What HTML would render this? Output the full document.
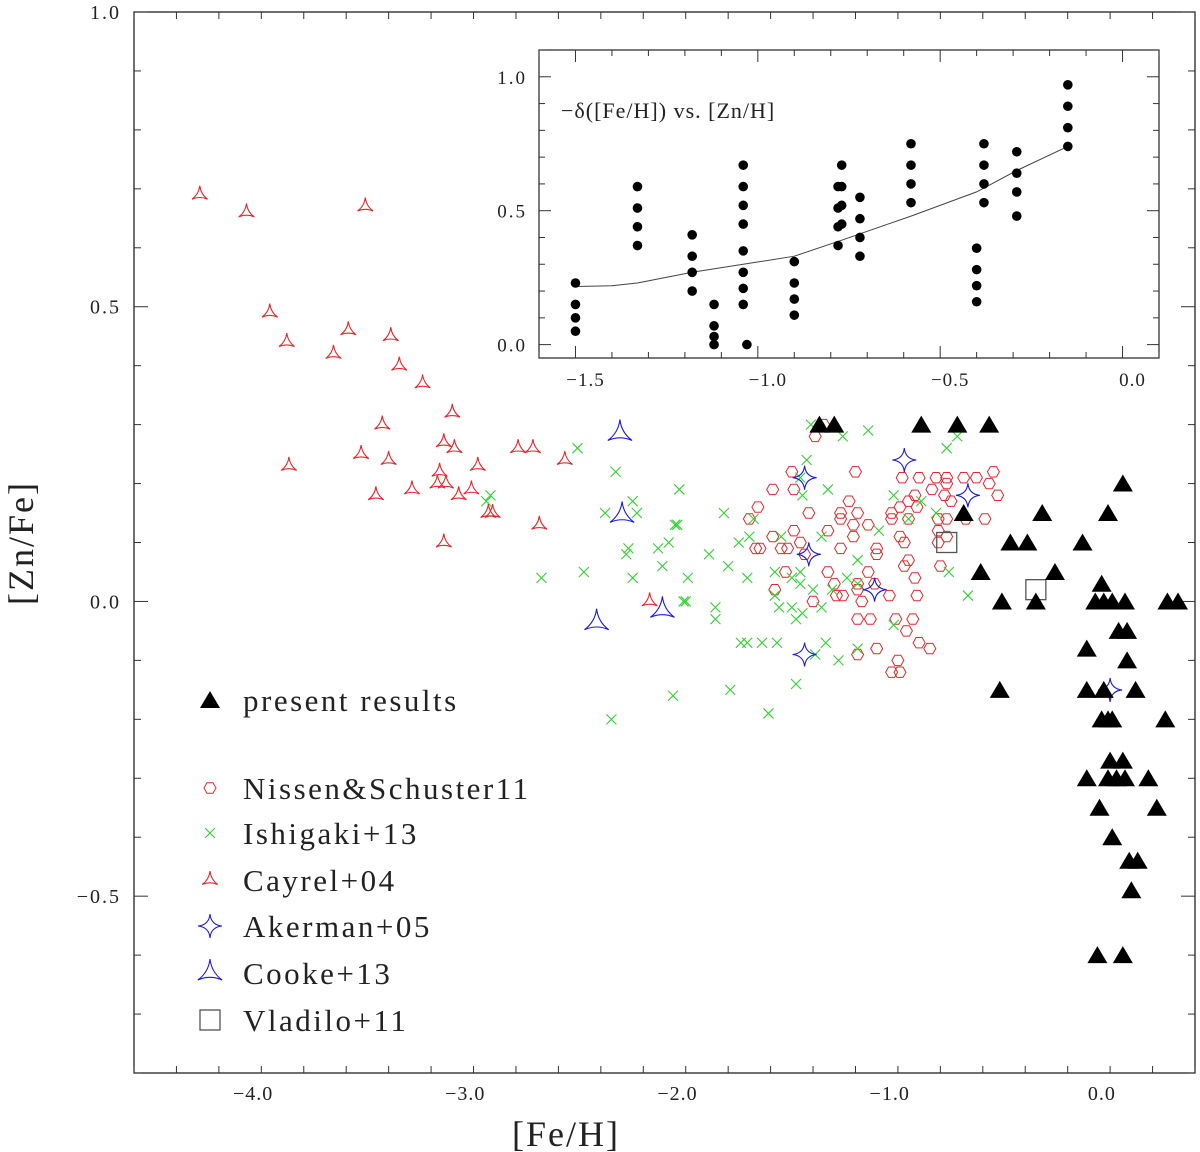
<!DOCTYPE html>
<html><head><meta charset="utf-8">
<style>
html,body{margin:0;padding:0;background:#fff;}
svg{display:block;}
text{font-family:"Liberation Serif","DejaVu Serif",serif;fill:#222;}
</style></head>
<body>
<svg id="chart" width="1200" height="1152" viewBox="0 0 1200 1152" xmlns="http://www.w3.org/2000/svg">
<rect x="0" y="0" width="1200" height="1152" fill="#fff"/>
<g id="axes"></g>
<g id="marks"></g>
<g id="inset"></g>
<g id="legend"></g>
</svg>
<script>
// ---- Main plot data ([Fe/H], [Zn/Fe]) ----
const presentX = [-1.27,-1.20,-0.79,-0.62,-0.47,0.16,-0.22,0.09,-0.59,-0.37,-0.29,-0.03,-0.51,-0.16,0.06,-0.41,-0.25,0.03,0.07,0.11,0.17,0.37,0.42,0.14,0.18,-0.01,0.18,-0.42,-0.01,0.07,0.22,0.06,0.09,0.11,0.36,0.10,0.16,-0.01,0.09,0.13,0.17,0.28,0.05,0.32,0.11,0.19,0.23,0.20,0.04,0.16];
const presentY = [0.30,0.30,0.30,0.30,0.30,0.20,0.15,0.15,0.15,0.10,0.10,0.10,0.05,0.05,0.03,0.00,0.00,0.00,0.00,0.00,0.00,0.00,0.00,-0.05,-0.05,-0.08,-0.10,-0.15,-0.15,-0.15,-0.15,-0.20,-0.20,-0.20,-0.20,-0.27,-0.27,-0.30,-0.30,-0.30,-0.30,-0.30,-0.35,-0.35,-0.40,-0.44,-0.44,-0.49,-0.60,-0.60];

const nissenX = [-1.25,-1.29,-1.40,-1.10,-1.49,-1.39,-1.56,-1.60,-1.32,-1.17,-1.17,-1.13,-1.09,-1.11,-1.04,-1.23,-1.39,-1.49,-1.11,-1.36,-1.57,-1.55,-1.45,-1.42,-1.17,-1.00,-1.00,-1.34,-0.89,-0.87,-0.85,-0.82,-0.81,-0.93,-0.93,-0.89,-0.85,-0.88,-0.80,-0.72,-0.67,-0.59,-0.53,-0.45,-0.47,-0.43,-0.74,-0.67,-0.68,-0.65,-0.58,-0.49,-0.71,-0.67,-0.71,-0.67,-0.71,-0.70,-0.85,-0.87,-0.82,-0.81,-0.94,-1.01,-1.09,-1.09,-1.20,-1.19,-1.16,-1.07,-1.30,-1.48,-1.43,-1.23,-1.04,-1.09,-1.03,-0.91,-0.83,-0.86,-0.80,-0.75,-1.00,-1.09,-0.90,-0.93,-0.89];
const nissenY = [0.30,0.28,0.22,0.22,0.19,0.19,0.16,0.14,0.15,0.15,0.14,0.17,0.15,0.13,0.13,0.12,0.12,0.11,0.11,0.10,0.09,0.09,0.09,0.09,0.09,0.09,0.08,0.08,0.11,0.10,0.17,0.18,0.16,0.15,0.14,0.16,0.14,0.21,0.21,0.21,0.21,0.21,0.21,0.22,0.20,0.18,0.19,0.20,0.18,0.17,0.14,0.14,0.14,0.14,0.12,0.11,0.10,0.06,0.07,0.06,0.04,0.01,0.01,0.03,0.03,0.02,0.03,0.01,0.01,0.00,0.00,0.02,0.05,0.05,0.05,-0.03,-0.03,-0.03,-0.03,-0.05,-0.07,-0.08,-0.08,-0.09,-0.10,-0.12,-0.12];

const ishigakiX = [-1.31,-1.16,-1.04,-1.33,-1.36,-1.23,-1.35,-2.23,-1.93,-2.15,-2.28,-1.72,-1.94,-1.95,-1.58,-1.60,-1.65,-1.45,-1.26,-0.99,-0.92,-0.79,-0.85,-0.72,-0.67,-0.62,-2.17,-2.18,-2.03,-1.98,-1.79,-2.01,-1.70,-2.15,-1.89,-1.61,-1.48,-1.40,-1.36,-1.36,-1.09,-1.14,-1.30,-1.21,-1.09,-1.48,-1.91,-1.90,-1.76,-1.76,-1.46,-1.40,-1.35,-1.38,-1.26,-0.92,-1.64,-1.61,-1.54,-1.47,-1.24,-1.09,-1.18,-1.29,-1.38,-1.69,-1.96,-0.66,-0.57,-2.13,-2.41,-2.58,-2.38,-2.82,-2.84,-2.25,-1.51];
const ishigakiY = [0.30,0.28,0.29,0.24,0.21,0.19,0.18,0.22,0.19,0.17,0.15,0.15,0.13,0.13,0.14,0.11,0.10,0.11,0.11,0.12,0.18,0.17,0.14,0.15,0.26,0.28,0.09,0.08,0.09,0.10,0.08,0.06,0.06,0.04,0.04,0.04,0.05,0.04,0.03,0.05,0.07,0.04,0.02,0.02,0.03,0.01,0.00,0.00,-0.01,-0.03,-0.01,-0.01,-0.02,-0.03,-0.01,-0.04,-0.07,-0.07,-0.07,-0.07,-0.07,-0.08,-0.10,-0.09,-0.14,-0.15,-0.16,0.05,0.01,0.15,0.26,0.04,0.05,0.18,0.17,-0.20,-0.19];

const cayrelX = [-4.19,-3.97,-3.41,-3.86,-3.78,-3.49,-3.29,-3.56,-3.25,-3.14,-3.00,-3.33,-3.77,-3.43,-3.30,-3.04,-2.99,-2.88,-2.69,-2.62,-2.47,-3.06,-3.07,-3.03,-2.91,-2.97,-3.36,-3.19,-2.83,-2.81,-2.59,-3.04,-2.07];
const cayrelY = [0.69,0.66,0.67,0.49,0.44,0.46,0.45,0.42,0.40,0.37,0.32,0.30,0.23,0.25,0.24,0.27,0.26,0.23,0.26,0.26,0.24,0.22,0.20,0.20,0.19,0.18,0.18,0.19,0.15,0.15,0.13,0.10,0.00];

const akermanX = [-1.34,-1.32,-1.01,-1.34,-0.87,-0.57,0.10];
const akermanY = [0.21,0.08,0.02,-0.09,0.24,0.18,-0.15];

const cookeX = [-2.21,-2.20,-2.01,-2.32];
const cookeY = [0.285,0.146,-0.015,-0.036];

const vladiloX = [-0.67,-0.25];
const vladiloY = [0.10,0.02];

const xTicks = [-4.0,-3.0,-2.0,-1.0,0.0];
const xTickLabels = ["\u22124.0","\u22123.0","\u22122.0","\u22121.0","0.0"];
const yTicks = [1.0,0.5,0.0,-0.5];
const yTickLabels = ["1.0","0.5","0.0","\u22120.5"];

// ---- Inset data ([Zn/H], -delta[Fe/H]) ----
const insetX = [-1.50,-1.50,-1.50,-1.50,-1.33,-1.33,-1.33,-1.33,-1.18,-1.18,-1.18,-1.18,-1.12,-1.12,-1.12,-1.12,-1.04,-1.04,-1.04,-1.04,-1.04,-1.04,-1.04,-1.04,-1.03,-0.90,-0.90,-0.90,-0.90,-0.77,-0.77,-0.78,-0.77,-0.78,-0.77,-0.78,-0.78,-0.72,-0.72,-0.72,-0.72,-0.58,-0.58,-0.58,-0.58,-0.40,-0.40,-0.40,-0.40,-0.38,-0.38,-0.38,-0.38,-0.29,-0.29,-0.29,-0.29,-0.15,-0.15,-0.15,-0.15];
const insetY = [0.23,0.15,0.10,0.05,0.59,0.51,0.44,0.37,0.41,0.33,0.27,0.20,0.15,0.07,0.03,0.00,0.67,0.59,0.52,0.45,0.35,0.27,0.21,0.15,0.00,0.31,0.23,0.17,0.11,0.67,0.59,0.59,0.52,0.51,0.45,0.44,0.37,0.55,0.47,0.40,0.33,0.75,0.67,0.60,0.53,0.36,0.28,0.22,0.16,0.75,0.67,0.60,0.53,0.72,0.64,0.57,0.48,0.97,0.89,0.81,0.74];
const curveX = [-1.50,-1.40,-1.33,-1.18,-1.04,-0.90,-0.77,-0.58,-0.40,-0.29,-0.15];
const curveY = [0.217,0.22,0.23,0.27,0.30,0.33,0.39,0.48,0.57,0.65,0.74];
const insetXTicks = [-1.5,-1.0,-0.5,0.0];
const insetXLabels = ["\u22121.5","\u22121.0","\u22120.5","0.0"];
const insetYTicks = [1.0,0.5,0.0];
const insetYLabels = ["1.0","0.5","0.0"];

// ---- geometry ----
const NS = "http://www.w3.org/2000/svg";
const P = {l:134, r:1195, t:12, b:1073, xmin:-4.5, xmax:0.5, ymin:-0.8, ymax:1.0};
function X(v){ return P.l + (v-P.xmin)/(P.xmax-P.xmin)*(P.r-P.l); }
function Y(v){ return P.b - (v-P.ymin)/(P.ymax-P.ymin)*(P.b-P.t); }
const I = {l:539, r:1159, t:50, b:358, xmin:-1.6, xmax:0.1, ymin:-0.05, ymax:1.1};
function IX(v){ return I.l + (v-I.xmin)/(I.xmax-I.xmin)*(I.r-I.l); }
function IY(v){ return I.b - (v-I.ymin)/(I.ymax-I.ymin)*(I.b-I.t); }

function mk(tag, attrs, parent){
  const e = document.createElementNS(NS, tag);
  for (const k in attrs) e.setAttribute(k, attrs[k]);
  parent.appendChild(e);
  return e;
}
const axes = document.getElementById('axes');
const marks = document.getElementById('marks');
const inset = document.getElementById('inset');
const legend = document.getElementById('legend');

// frame
let fr = mk('rect',{x:P.l,y:P.t,width:P.r-P.l,height:P.b-P.t,fill:'none',stroke:'#222','stroke-width':1.3},axes);



// x ticks (minor every 0.2)
for (let i=0;i<=25;i++){
  const v = P.xmin + i*0.2;
  const major = Math.abs(v - Math.round(v))<1e-6;
  const len = major?14:7;
  const x = X(v);
  const t1 = mk('line',{x1:x,y1:P.b,x2:x,y2:P.b-len,stroke:'#333','stroke-width':1},axes);
  
  
  const t2 = mk('line',{x1:x,y1:P.t,x2:x,y2:P.t+len,stroke:'#333','stroke-width':1},axes);
  
  
}
xTicks.forEach((v,i)=>{
  const t = mk('text',{x:X(v)+13,y:1100,'text-anchor':'middle','font-size':20,'letter-spacing':'1'},axes);
  t.textContent = xTickLabels[i];
  
  
});
// y ticks (minor every 0.1)
for (let i=0;i<=18;i++){
  const v = P.ymin + i*0.1;
  const major = Math.abs(v*2 - Math.round(v*2))<1e-6;
  const len = major?14:7;
  const y = Y(v);
  const t1 = mk('line',{x1:P.l,y1:y,x2:P.l+len,y2:y,stroke:'#333','stroke-width':1},axes);
  
  
  const t2 = mk('line',{x1:P.r,y1:y,x2:P.r-len,y2:y,stroke:'#333','stroke-width':1},axes);
  
  
}
yTicks.forEach((v,i)=>{
  const t = mk('text',{x:121,y:Y(v)+7,'text-anchor':'end','font-size':20,'letter-spacing':'2'},axes);
  t.textContent = yTickLabels[i];
  
  
});
let xl = mk('text',{x:566,y:1146,'text-anchor':'middle','font-size':36,'letter-spacing':'2'},axes);
xl.textContent='[Fe/H]';


let yl = mk('text',{x:0,y:0,'text-anchor':'middle','font-size':36,'letter-spacing':'2',transform:'translate(33,543) rotate(-90)'},axes);
yl.textContent='[Zn/Fe]';



// ---- marker builders ----
function triFilled(g,x,y,s){ return mk('path',{d:`M${x},${y-s*0.9} L${x+s},${y+s*0.8} L${x-s},${y+s*0.8} Z`,fill:'#000'},g); }
function hexagon(g,x,y,r,col){
  let d='';
  for(let k=0;k<6;k++){ const a=k*Math.PI/3; d+=(k?'L':'M')+(x+r*Math.cos(a)).toFixed(1)+','+(y+r*Math.sin(a)).toFixed(1); }
  return mk('path',{d:d+'Z',fill:'none',stroke:col,'stroke-width':1},g);
}
function cross(g,x,y,r,col){ return mk('path',{d:`M${x-r},${y-r}L${x+r},${y+r}M${x-r},${y+r}L${x+r},${y-r}`,stroke:col,'stroke-width':1.1,fill:'none'},g); }
function starN(g,x,y,r,n,rot,col){
  let d='';
  for(let k=0;k<n;k++){
    const a=rot+k*2*Math.PI/n, a2=rot+(k+1)*2*Math.PI/n, am=(a+a2)/2;
    const px=x+r*Math.cos(a), py=y+r*Math.sin(a);
    const qx=x+r*Math.cos(a2), qy=y+r*Math.sin(a2);
    const cx=x+r*0.12*Math.cos(am), cy=y+r*0.12*Math.sin(am);
    if(k===0) d+=`M${px.toFixed(1)},${py.toFixed(1)}`;
    d+=`Q${cx.toFixed(1)},${cy.toFixed(1)} ${qx.toFixed(1)},${qy.toFixed(1)}`;
  }
  return mk('path',{d:d+'Z',fill:'none',stroke:col,'stroke-width':1.1},g);
}
function square(g,x,y,s){ return mk('rect',{x:x-s/2,y:y-s/2,width:s,height:s,fill:'none',stroke:'#555','stroke-width':1.3},g); }

// ---- series ----
nissenX.forEach((v,i)=>{
  const e=hexagon(marks,X(v),Y(nissenY[i]),6,'#e8262b');
  
  
});
ishigakiX.forEach((v,i)=>{
  const e=cross(marks,X(v),Y(ishigakiY[i]),5,'#2fd12f');
  
  
});
cayrelX.forEach((v,i)=>{
  const e=starN(marks,X(v),Y(cayrelY[i]),9,3,-Math.PI/2,'#e8262b');
  
  
});
akermanX.forEach((v,i)=>{
  const e=starN(marks,X(v),Y(akermanY[i]),12,4,-Math.PI/2,'#1a1ae0');
  
  
});
cookeX.forEach((v,i)=>{
  const e=starN(marks,X(v),Y(cookeY[i]),14,3,-Math.PI/2,'#1a1ae0');
  
  
});
vladiloX.forEach((v,i)=>{
  const e=square(marks,X(v),Y(vladiloY[i]),20);
  
  
});
presentX.forEach((v,i)=>{
  const e=triFilled(marks,X(v),Y(presentY[i]),10);
  
  
});

// ---- inset ----
let ifr = mk('rect',{x:I.l,y:I.t,width:I.r-I.l,height:I.b-I.t,fill:'none',stroke:'#222','stroke-width':1.2},inset);


for(let i=0;i<=17;i++){
  const v=I.xmin+i*0.1;
  const major=Math.abs(v*2-Math.round(v*2))<1e-6;
  const len=major?12:6; const x=IX(v);
  const a=mk('line',{x1:x,y1:I.b,x2:x,y2:I.b-len,stroke:'#333','stroke-width':1},inset);
  
  
  const b=mk('line',{x1:x,y1:I.t,x2:x,y2:I.t+len,stroke:'#333','stroke-width':1},inset);
  
  
}
for(let i=0;i<=11;i++){
  const v=i*0.1;
  const major=Math.abs(v*2-Math.round(v*2))<1e-6;
  const len=major?12:6; const y=IY(v);
  const a=mk('line',{x1:I.l,y1:y,x2:I.l+len,y2:y,stroke:'#333','stroke-width':1},inset);
  
  
  const b=mk('line',{x1:I.r,y1:y,x2:I.r-len,y2:y,stroke:'#333','stroke-width':1},inset);
  
  
}
insetXTicks.forEach((v,i)=>{
  const t=mk('text',{x:IX(v)+10,y:386,'text-anchor':'middle','font-size':19,'letter-spacing':'1'},inset);
  t.textContent=insetXLabels[i];
  
  
});
insetYTicks.forEach((v,i)=>{
  const t=mk('text',{x:527,y:IY(v)+7,'text-anchor':'end','font-size':19,'letter-spacing':'2'},inset);
  t.textContent=insetYLabels[i];
  
  
});
let pts = curveX.map((v,i)=>IX(v).toFixed(1)+','+IY(curveY[i]).toFixed(1)).join(' ');
let cl = mk('polyline',{points:pts,fill:'none',stroke:'#444','stroke-width':1},inset);


insetX.forEach((v,i)=>{
  const c=mk('circle',{cx:IX(v),cy:IY(insetY[i]),r:4.8,fill:'#000'},inset);
  
  
});
let it = mk('text',{x:561,y:118,'font-size':22,'letter-spacing':'1'},inset);
it.textContent='\u2212\u03b4([Fe/H]) vs. [Zn/H]';



// ---- legend ----
const legLabels = ["present results","Nissen&Schuster11","Ishigaki+13","Cayrel+04","Akerman+05","Cooke+13","Vladilo+11"];
const legY = [700,788,833,880,926,973,1020];
legLabels.forEach((lab,i)=>{
  const y=legY[i]; const x=210;
  let m;
  if(i===0) m=triFilled(legend,x,y,10);
  else if(i===1) m=hexagon(legend,x,y,6,'#e8262b');
  else if(i===2) m=cross(legend,x,y,5,'#2fd12f');
  else if(i===3) m=starN(legend,x,y,9,3,-Math.PI/2,'#e8262b');
  else if(i===4) m=starN(legend,x,y,12,4,-Math.PI/2,'#1a1ae0');
  else if(i===5) m=starN(legend,x,y,14,3,-Math.PI/2,'#1a1ae0');
  else m=square(legend,x,y,20);
  
  
  const t=mk('text',{x:243,y:y+11,'font-size':31,'letter-spacing':'2.5',fill:'#333'},legend);
  t.textContent=lab;
  
  
});
</script>
</body></html>
